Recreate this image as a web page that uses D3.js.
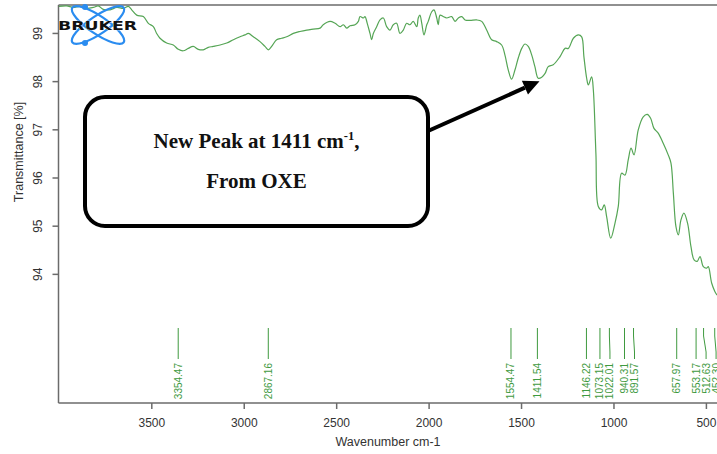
<!DOCTYPE html>
<html>
<head>
<meta charset="utf-8">
<script src="https://cdn.jsdelivr.net/npm/d3@7"></script>
<style>
  body { margin: 0; background: #fff; }
  svg { display: block; }
  .axis path, .axis line { stroke: #6b6b6b; stroke-width: 1.5; }
  .axis text { font-family: "Liberation Sans", Arial, sans-serif; font-size: 12px; fill: #333; }
  .label { font-family: "Liberation Sans", Arial, sans-serif; font-size: 12.5px; fill: #333; }
  .peak-label { font-family: "Liberation Sans", Arial, sans-serif; font-size: 10px; fill: #3f9a3f; }
  .note { font-family: "Liberation Serif", "Times New Roman", serif; font-weight: bold; font-size: 21px; fill: #111; }
</style>
</head>
<body>
<div id="chart"></div>
<script>
// IR spectrum (wavenumber cm-1, transmittance %)
const wavenumber = [4000, 3958, 3922, 3886, 3849, 3814, 3787, 3760, 3723, 3687, 3651, 3624, 3606, 3579, 3543, 3516,
    3489, 3471, 3453, 3417, 3381, 3354, 3327, 3300, 3273, 3246, 3219, 3192, 3165, 3128, 3092, 3056, 3020, 2993, 2975,
    2948, 2912, 2885, 2867, 2849, 2822, 2795, 2768, 2732, 2696, 2659, 2624, 2587, 2570, 2533, 2506, 2479, 2461, 2443,
    2425, 2398, 2380, 2371, 2353, 2344, 2332, 2317, 2308, 2299, 2281, 2263, 2245, 2227, 2209, 2191, 2173, 2155, 2137,
    2119, 2101, 2083, 2064, 2056, 2047, 2037, 2025, 2010, 2002, 1983, 1971, 1956, 1948, 1938, 1921, 1902, 1875, 1857,
    1839, 1821, 1803, 1776, 1740, 1713, 1686, 1659, 1632, 1605, 1587, 1569, 1551, 1533, 1515, 1496, 1479, 1461, 1442,
    1425, 1407, 1388, 1370, 1353, 1326, 1289, 1262, 1244, 1217, 1190, 1172, 1160, 1145, 1136, 1118, 1109, 1095, 1082,
    1064, 1050, 1037, 1015, 992, 974, 956, 938, 920, 905, 889, 866, 839, 817, 799, 781, 758, 731, 704, 689, 676, 662,
    649, 635, 619, 599, 581, 564, 547, 532, 514, 496, 487, 469, 451, 440];
const transmittance = [99.55, 99.56, 99.53, 99.55, 99.51, 99.53, 99.56, 99.49, 99.48, 99.53, 99.51, 99.55, 99.48, 99.37,
    99.34, 99.20, 99.13, 98.99, 98.89, 98.79, 98.75, 98.66, 98.63, 98.68, 98.72, 98.66, 98.65, 98.70, 98.72, 98.75,
    98.79, 98.86, 98.92, 98.96, 98.99, 98.92, 98.82, 98.72, 98.65, 98.72, 98.86, 98.89, 98.92, 98.99, 99.03, 99.06,
    99.08, 99.10, 99.17, 99.24, 99.20, 99.13, 99.17, 99.10, 99.15, 99.17, 99.24, 99.34, 99.31, 99.34, 99.20, 98.99,
    98.86, 98.99, 99.13, 99.27, 99.31, 99.13, 99.06, 99.17, 99.20, 98.99, 99.06, 99.20, 99.17, 99.24, 99.13, 99.31,
    99.37, 99.20, 98.96, 99.17, 99.24, 99.44, 99.48, 99.31, 99.17, 99.37, 99.34, 99.31, 99.34, 99.24, 99.31, 99.34,
    99.27, 99.26, 99.27, 99.24, 99.06, 98.86, 98.82, 98.75, 98.54, 98.23, 98.04, 98.23, 98.48, 98.68, 98.77, 98.72,
    98.54, 98.30, 98.06, 98.08, 98.16, 98.30, 98.34, 98.51, 98.68, 98.68, 98.89, 98.96, 98.92, 98.51, 98.06, 97.92,
    98.09, 97.82, 96.50, 95.40, 95.33, 95.43, 95.19, 94.74, 95.05, 95.40, 96.09, 96.05, 96.37, 96.61, 96.47, 96.99,
    97.26, 97.31, 97.23, 97.02, 96.92, 96.71, 96.47, 96.30, 95.67, 94.98, 94.81, 95.12, 95.26, 95.05, 94.57, 94.29,
    94.26, 94.36, 94.15, 94.12, 94.15, 93.81, 93.63, 93.56];

// picked peaks
const peakPositions = [3354.47, 2867.16, 1554.47, 1411.54, 1146.22, 1073.15, 1022.01, 940.31, 891.57, 657.97, 553.17, 512.63, 452.30];
const peakLabels = ["3354.47", "2867.16", "1554.47", "1411.54", "1146.22", "1073.15", "1022.01", "940.31", "891.57", "657.97", "553.17", "512.63", "452.30"];

const xTicks = [3500, 3000, 2500, 2000, 1500, 1000, 500];
const yTicks = [94, 95, 96, 97, 98, 99];

const W = 717, H = 454;
const plot = {left: 58.5, right: 717, top: 5, bottom: 403};

const svg = d3.select("#chart").append("svg")
    .attr("width", W)
    .attr("height", H);

const x = d3.scaleLinear().domain([4002, 440]).range([plot.left, plot.right]);
const y = d3.scaleLinear().domain([91.32, 99.58]).range([plot.bottom, plot.top]);

svg.append("clipPath").attr("id", "plot-clip")
    .append("rect")
    .attr("x", plot.left).attr("y", plot.top)
    .attr("width", plot.right - plot.left).attr("height", plot.bottom - plot.top);

// frame: top line only, the right side is cut off in the picture
svg.append("line")
    .attr("x1", plot.left).attr("x2", plot.right)
    .attr("y1", plot.top).attr("y2", plot.top)
    .attr("stroke", "#6b6b6b").attr("stroke-width", 1.5);

// axes
const xAxis = svg.append("g")
    .attr("class", "axis")
    .attr("transform", `translate(0, ${plot.bottom})`)
    .call(d3.axisBottom(x).tickValues(xTicks).tickFormat(d3.format("d")).tickSize(6).tickSizeOuter(0));
xAxis.select(".domain").attr("d", `M${plot.left},0H${plot.right}`);
xAxis.selectAll("text").attr("dy", 0).attr("y", 24);

const yAxis = svg.append("g")
    .attr("class", "axis")
    .attr("transform", `translate(${plot.left}, 0)`)
    .call(d3.axisLeft(y).tickValues(yTicks).tickSize(6).tickSizeOuter(0));
yAxis.select(".domain").attr("d", `M0,${plot.top}V${plot.bottom}`);
yAxis.selectAll("text")
    .attr("transform", "rotate(-90)")
    .attr("text-anchor", "middle")
    .attr("x", 0)
    .attr("y", -16.5)
    .attr("dy", 0);

svg.append("text")
    .attr("class", "label")
    .attr("text-anchor", "middle")
    .attr("x", 388)
    .attr("y", 446)
    .text("Wavenumber cm-1");

svg.append("text")
    .attr("class", "label")
    .attr("text-anchor", "middle")
    .attr("transform", "rotate(-90)")
    .attr("x", -152)
    .attr("y", 23)
    .text("Transmittance [%]");

// spectrum
const line = d3.line()
    .x((d, i) => x(wavenumber[i]))
    .y(d => y(d))
    .curve(d3.curveCatmullRom.alpha(0.5));

svg.append("path")
    .datum(transmittance)
    .attr("clip-path", "url(#plot-clip)")
    .attr("fill", "none")
    .attr("stroke", "#55a555")
    .attr("stroke-width", 1.2)
    .attr("d", line);

// peak markers, labels pushed apart when they crowd
const peaks = peakPositions.map((p, i) => ({pos: p, label: peakLabels[i], px: x(p)}));
let lastX = -Infinity;
peaks.forEach(d => {
    d.lx = Math.max(d.px, lastX + 10);
    lastX = d.lx;
});

const peakGroup = svg.append("g").attr("class", "peaks");

peakGroup.selectAll(".peak-line")
    .data(peaks)
    .join("path")
    .attr("class", "peak-line")
    .attr("fill", "none")
    .attr("stroke", "#3f9a3f")
    .attr("stroke-width", 1)
    .attr("d", d => `M${d.px},328V336L${d.lx},352V359`);

peakGroup.selectAll(".peak-label")
    .data(peaks)
    .join("text")
    .attr("class", "peak-label")
    .attr("text-anchor", "end")
    .attr("dy", "0.35em")
    .attr("transform", d => `translate(${d.lx}, 363) rotate(-90)`)
    .text(d => d.label);

// Bruker logo
const logo = svg.append("g").attr("class", "logo").attr("transform", "translate(98, 25)");
[-34, 34].forEach(a => {
    logo.append("ellipse")
        .attr("rx", 31).attr("ry", 9)
        .attr("transform", `rotate(${a})`)
        .attr("fill", "none")
        .attr("stroke", "#2a8cf0")
        .attr("stroke-width", 2.2);
});
logo.append("circle").attr("cx", -13).attr("cy", -18).attr("r", 3).attr("fill", "#2a8cf0");
logo.append("circle").attr("cx", -13).attr("cy", 18).attr("r", 3).attr("fill", "#2a8cf0");
logo.append("text")
    .attr("x", -40).attr("y", 5)
    .attr("textLength", 79)
    .attr("lengthAdjust", "spacingAndGlyphs")
    .attr("font-family", "DejaVu Sans, sans-serif")
    .attr("font-weight", "bold")
    .attr("font-size", 13)
    .attr("fill", "#111")
    .attr("stroke", "#fff")
    .attr("stroke-width", 0.6)
    .attr("paint-order", "stroke")
    .text("BRUKER");

// annotation box + arrow to the 1411 peak
const box = {x: 85, y: 97, w: 343, h: 129};
svg.append("rect")
    .attr("x", box.x).attr("y", box.y)
    .attr("width", box.w).attr("height", box.h)
    .attr("rx", 20)
    .attr("fill", "#fff")
    .attr("stroke", "#000")
    .attr("stroke-width", 4);

const note = svg.append("text")
    .attr("class", "note")
    .attr("text-anchor", "middle")
    .attr("x", box.x + box.w / 2)
    .attr("y", 148);
note.append("tspan").text("New Peak at 1411 cm");
note.append("tspan").attr("font-size", 12.5).attr("dy", -8).text("-1");
note.append("tspan").attr("dy", 8).text(",");

svg.append("text")
    .attr("class", "note")
    .attr("text-anchor", "middle")
    .attr("x", box.x + box.w / 2)
    .attr("y", 188)
    .text("From OXE");

const tip = [x(1400), y(98.0)];
const start = [box.x + box.w, 131];
const ang = Math.atan2(tip[1] - start[1], tip[0] - start[0]);
const headLen = 16, headW = 7.5;
const base = [tip[0] - headLen * Math.cos(ang), tip[1] - headLen * Math.sin(ang)];

svg.append("line")
    .attr("x1", start[0]).attr("y1", start[1])
    .attr("x2", base[0]).attr("y2", base[1])
    .attr("stroke", "#000")
    .attr("stroke-width", 4);

svg.append("path")
    .attr("fill", "#000")
    .attr("d", `M${tip[0]},${tip[1]}` +
        `L${base[0] + headW * Math.sin(ang)},${base[1] - headW * Math.cos(ang)}` +
        `L${base[0] - headW * Math.sin(ang)},${base[1] + headW * Math.cos(ang)}Z`);
</script>
</body>
</html>
